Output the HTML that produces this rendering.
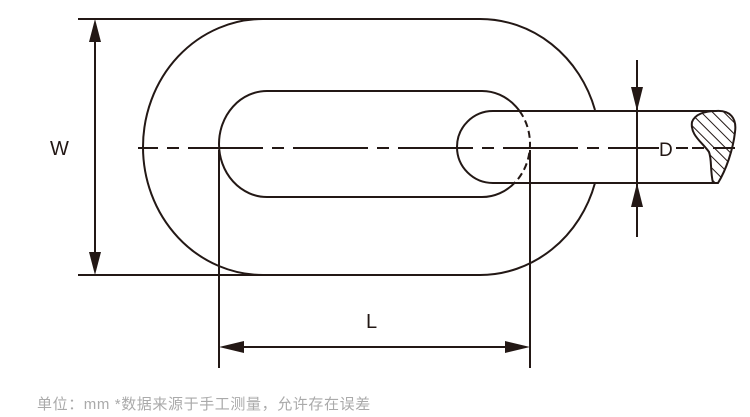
<!DOCTYPE html>
<html><head><meta charset="utf-8"><style>
html,body{margin:0;padding:0;background:#fff;width:750px;height:417px;overflow:hidden}
.cap{position:absolute;left:37px;top:393px;font:15px "Liberation Sans","Noto Sans CJK SC",sans-serif;color:#aaa;white-space:nowrap;letter-spacing:0.6px}
</style></head><body>
<svg width="750" height="417" style="position:absolute;left:0;top:0">
<defs>
<pattern id="h" patternUnits="userSpaceOnUse" width="8" height="8" patternTransform="rotate(-45)">
<line x1="0" y1="0" x2="0" y2="8" stroke="#231815" stroke-width="2"/></pattern>
<clipPath id="out"><rect x="0" y="0" width="750" height="111"/><rect x="0" y="183" width="750" height="234"/></clipPath>
<clipPath id="in"><rect x="0" y="111" width="750" height="72"/></clipPath>
</defs>
<g fill="none" stroke="#231815" stroke-width="2">
<path d="M595,110 A120,128 0 0 0 480,19 L263,19 A120,128 0 0 0 263,275 L480,275 A120,128 0 0 0 595,183"/>
<path d="M482,91 L267,91 A48,53 0 0 0 267,197 L482,197"/>
<path d="M482,91 A48,53 0 0 1 482,197" clip-path="url(#out)"/>
<path d="M482,91 A48,53 0 0 1 482,197" clip-path="url(#in)" stroke-dasharray="7,4"/>
<path d="M716,111 L493,111 A36,36 0 0 0 493,183 L714,183"/>
<line x1="78" y1="19" x2="365" y2="19"/>
<line x1="78" y1="275" x2="365" y2="275"/>
<line x1="95" y1="40" x2="95" y2="255"/>
<line x1="219" y1="150" x2="219" y2="368"/>
<line x1="530" y1="150" x2="530" y2="368"/>
<line x1="240" y1="347" x2="510" y2="347"/>
<line x1="637" y1="60" x2="637" y2="237"/>
<line x1="138" y1="148" x2="735" y2="148" stroke-dasharray="75,9,12,9" stroke-dashoffset="55"/>
</g>
<path d="M716,111 C730,110 737,118 735,132 C733,150 726,170 718,183 L713,183 C710,170 712,160 709,152 C702,142 690,135 692,122 C695,114 705,111 716,111 Z" fill="url(#h)" stroke="#231815" stroke-width="2"/>
<rect x="651" y="137" width="28" height="22" fill="#fff"/>
<line x1="651" y1="148" x2="659" y2="148" stroke="#231815" stroke-width="2"/>
<line x1="676" y1="148" x2="688" y2="148" stroke="#231815" stroke-width="2"/>
<g fill="#231815">
<polygon points="95,19 89,42 101,42"/>
<polygon points="95,275 89,252 101,252"/>
<polygon points="219,347 244,341 244,353"/>
<polygon points="530,347 505,341 505,353"/>
<polygon points="637,111 631,87 643,87"/>
<polygon points="637,183 631,207 643,207"/>
</g>
<g font-family="Liberation Sans,sans-serif" font-size="20" fill="#231815">
<text x="50" y="155">W</text>
<text x="366" y="328">L</text>
<text x="659" y="156" font-size="19">D</text>
</g>
</svg>
<div class="cap">单位：mm *数据来源于手工测量，允许存在误差</div>
</body></html>
